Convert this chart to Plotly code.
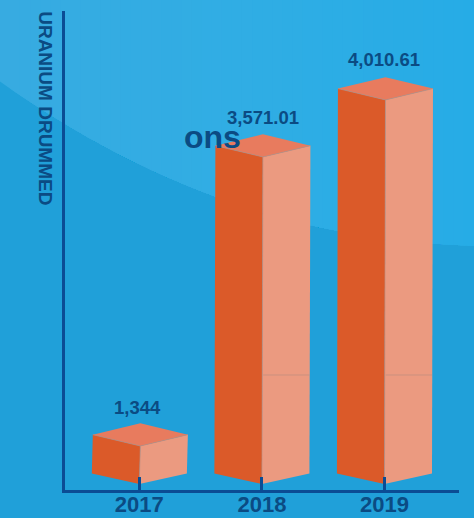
import numpy as np
import plotly.graph_objects as go

# Chart data
years = ["2017", "2018", "2019"]
uranium_drummed = [1344, 3571.01, 4010.61]
value_labels = ["1,344", "3,571.01", "4,010.61"]
axis_title = "URANIUM DRUMMED"
stray_word = "ons"

# Canvas and plot frame, in pixels
W, H = 474, 518
LEFT, RIGHT, TOP, BOTTOM = 65.2, 459, 11, 490

# Axis scales: the value axis starts well above zero
BASE_VALUE = 1051
VALUE_PER_PX = 7.705
CENTER0_PX = 139.5
CAT_STEP_PX = 122.5
BASE_PX = 484


def idx_of(px):
    return (px - CENTER0_PX) / CAT_STEP_PX


def val_of(py):
    return BASE_VALUE + (BASE_PX - py) * VALUE_PER_PX


x_range = [idx_of(LEFT), idx_of(RIGHT)]
y_range = [val_of(BOTTOM), val_of(TOP)]

# Box geometry
HALF_W = 47.5 / CAT_STEP_PX
SKEW = 1.0 / CAT_STEP_PX
RISE_TOP = 11.3 * VALUE_PER_PX
RISE_BOTTOM = 10.5 * VALUE_PER_PX
SEAM_VALUE = val_of(375)

LEFT_FACE = "#DB5A29"
RIGHT_FACE = "#EB9A80"
TOP_FACE = "#E87B5E"
EDGE = "#BC8E80"
INK = "#0B4B83"
AXIS = "#0B4C94"

fig = go.Figure()


def face(xs, ys, color):
    fig.add_trace(go.Scatter(
        x=xs, y=ys, mode="lines", fill="toself", fillcolor=color,
        line=dict(width=0, color=color), hoverinfo="skip", showlegend=False,
    ))


def edge(xs, ys):
    fig.add_trace(go.Scatter(
        x=xs, y=ys, mode="lines", line=dict(width=0.7, color=EDGE),
        hoverinfo="skip", showlegend=False,
    ))


for i, v in enumerate(uranium_drummed):
    bx, tx = i, i + SKEW
    face([bx - HALF_W, bx, tx, tx - HALF_W],
         [BASE_VALUE + RISE_BOTTOM, BASE_VALUE, v, v + RISE_TOP], LEFT_FACE)
    face([bx, bx + HALF_W, tx + HALF_W, tx],
         [BASE_VALUE, BASE_VALUE + RISE_BOTTOM, v + RISE_TOP, v], RIGHT_FACE)
    face([tx, tx + HALF_W, tx, tx - HALF_W],
         [v, v + RISE_TOP, v + 2 * RISE_TOP, v + RISE_TOP], TOP_FACE)
    edge([tx - HALF_W, tx, tx + HALF_W], [v + RISE_TOP, v, v + RISE_TOP])
    edge([bx, tx], [BASE_VALUE, v])
    if v > SEAM_VALUE:
        edge([bx + 0.01, bx + HALF_W], [SEAM_VALUE, SEAM_VALUE])


def px_x(p):
    return (p - LEFT) / (RIGHT - LEFT)


def px_y(p):
    return (BOTTOM - p) / (BOTTOM - TOP)


# Backdrop: a lighter swoosh across the top with a soft left-to-right shift
knots_x = np.array([0, 65, 130, 215, 310, 337, 432, 474], float)
knots_y = np.array([81, 125, 158, 197, 225, 231, 243, 246], float)
curve = np.poly1d(np.polyfit(knots_x, knots_y, 4))
curve_x = np.linspace(0, 480, 61)
curve_y = curve(curve_x)
shapes = []
stops = np.linspace(0, 474, 48)
grad_pos = [0, 237, 474]
grad_r = [0x37, 0x30, 0x26]
grad_g = [0xAB, 0xAD, 0xAC]
grad_b = [0xE1, 0xE4, 0xE6]
for s in stops:
    mask = curve_x > s
    xs = np.concatenate([[s], curve_x[mask]])
    ys = np.concatenate([[curve(s)], curve_y[mask]])
    path = f"M {px_x(s):.5f} {px_y(-2):.5f} L {px_x(480):.5f} {px_y(-2):.5f} "
    for a, b in zip(xs[::-1], ys[::-1]):
        path += f"L {px_x(a):.5f} {px_y(b):.5f} "
    path += "Z"
    r, g, b = (np.interp(s, grad_pos, c) for c in (grad_r, grad_g, grad_b))
    shapes.append(dict(
        type="path", path=path, xref="paper", yref="paper", layer="below",
        fillcolor=f"rgb({r:.0f},{g:.0f},{b:.0f})",
        line=dict(width=0),
    ))

font = "Liberation Sans"
annotations = []
label_shift_px = [-2, 1, -0.5]
label_rise_px = [38, 39, 40]
for i, (v, text) in enumerate(zip(uranium_drummed, value_labels)):
    annotations.append(dict(
        x=i, y=v, xref="x", yref="y", text=f"<b>{text}</b>", showarrow=False,
        xshift=label_shift_px[i], yshift=label_rise_px[i],
        font=dict(family=font, size=18.5, color=INK),
    ))
annotations.append(dict(
    x=px_x(45.5), y=px_y(108.5), xref="paper", yref="paper",
    xanchor="center", yanchor="middle",
    text=f"<b>{axis_title}</b>", textangle=90, showarrow=False,
    font=dict(family=font, size=19, color=INK),
))
annotations.append(dict(
    x=px_x(212.5), y=px_y(137), xref="paper", yref="paper",
    xanchor="center", yanchor="middle",
    text=f"<b>{stray_word}</b>", showarrow=False,
    font=dict(family=font, size=32, color=INK),
))

tick_vals = [0, 1, 2, idx_of(458.7)]
tick_text = [f"<b>{y}</b>" for y in years] + [""]

fig.update_layout(
    width=W, height=H, autosize=False,
    margin=dict(l=LEFT, r=W - RIGHT, t=TOP, b=H - BOTTOM, pad=0, autoexpand=False),
    paper_bgcolor="#20A0D9", plot_bgcolor="rgba(0,0,0,0)",
    shapes=shapes, annotations=annotations, showlegend=False,
    xaxis=dict(
        range=x_range, tickmode="array", tickvals=tick_vals, ticktext=tick_text,
        showgrid=False, zeroline=False, showline=True, linecolor=AXIS, linewidth=2.5,
        ticks="inside", ticklen=13, tickwidth=2.5, tickcolor=AXIS, automargin=False,
        tickangle=0, tickfont=dict(family=font, size=22, color=INK),
        ticklabelstandoff=-7,
    ),
    yaxis=dict(
        range=y_range, showgrid=False, zeroline=False, showticklabels=False,
        showline=True, linecolor=AXIS, linewidth=2.5, ticks="", automargin=False,
    ),
)

fig.write_html("out.html", config=dict(displayModeBar=False))
